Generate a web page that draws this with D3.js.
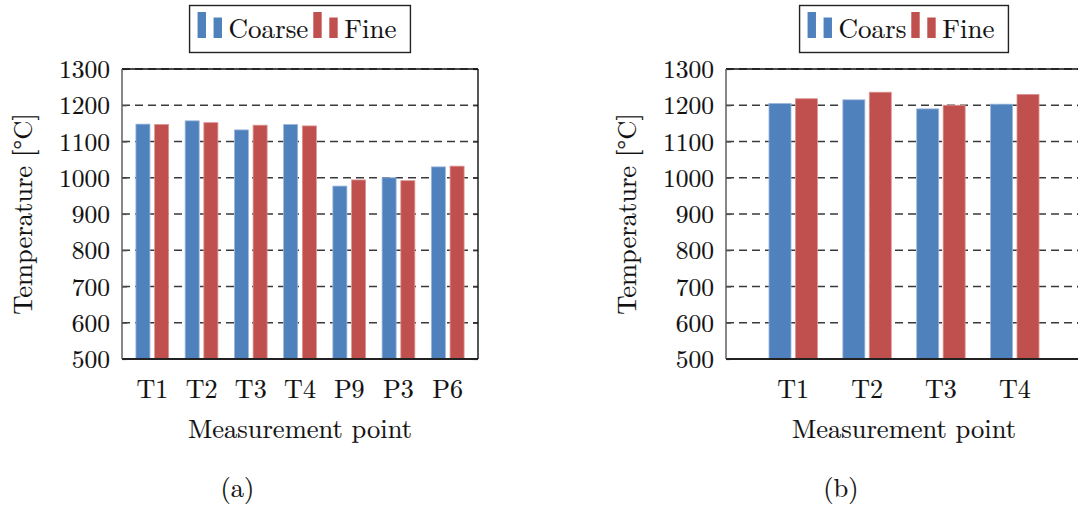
<!DOCTYPE html>
<html>
<head>
<meta charset="utf-8">
<script src="https://cdn.jsdelivr.net/npm/d3@7"></script>
<style>
  body { margin: 0; background: #fff; }
</style>
</head>
<body>
<div id="chart"></div>
<script>
// data
const catsA = ["T1", "T2", "T3", "T4", "P9", "P3", "P6"];
const coarseA = [1148, 1157, 1132, 1147, 977, 1000, 1030];
const fineA = [1147, 1152, 1145, 1143, 994, 992, 1032];

const catsB = ["T1", "T2", "T3", "T4"];
const coarseB = [1205, 1215, 1190, 1203];
const fineB = [1218, 1236, 1200, 1230];

const yTicks = [500, 600, 700, 800, 900, 1000, 1100, 1200, 1300];
const legendA = ["Coarse", "Fine"];
const legendB = ["Coars", "Fine"];

const colors = ["#4f81bd", "#c0504d"];
const edges = ["#9db8dc", "#dc9694"];

const W = 1078, H = 511;
const svg = d3.select("#chart").append("svg")
  .attr("width", W).attr("height", H)
  .style("font-family", '"Latin Modern Roman", "Liberation Serif", serif');

// slightly heavier text, closer to the downscaled TeX look
function ink(sel) {
  return sel.attr("fill", "#111").attr("stroke", "#111").attr("stroke-width", 0.15);
}

function panel(o) {
  const g = svg.append("g");
  const y = d3.scaleLinear().domain([500, 1300]).range([359, 69]);
  const x = d3.scalePoint().domain(o.cats).range([o.x0, o.x1]).padding(o.pad);
  const step = x.step();
  const bw = step * o.bwFrac, shift = step * o.shiftFrac;

  // dashed grid
  g.selectAll(".grid").data(yTicks).join("line")
    .attr("x1", o.x0).attr("x2", o.x1)
    .attr("y1", d => y(d)).attr("y2", d => y(d))
    .attr("stroke", "#3a3a3a").attr("stroke-width", 1.5)
    .attr("stroke-dasharray", "8,5");

  // bars
  [o.coarse, o.fine].forEach((vals, si) => {
    g.selectAll(".bar" + si).data(vals).join("rect")
      .attr("x", (d, i) => x(o.cats[i]) + (si ? shift : -shift) - bw / 2)
      .attr("width", bw)
      .attr("y", d => y(d))
      .attr("height", d => y(500) - y(d))
      .attr("fill", colors[si])
      .attr("stroke", edges[si]).attr("stroke-width", 0.8);
  });

  // y axis ticks inside, left and right
  const yl = g.append("g").attr("transform", `translate(${o.x0},0)`)
    .call(d3.axisRight(y).tickValues(yTicks).tickSize(5).tickFormat(""));
  yl.select(".domain").remove();
  yl.selectAll("line").attr("stroke", "#555").attr("stroke-width", 1.2);
  const yr = g.append("g").attr("transform", `translate(${o.x1},0)`)
    .call(d3.axisLeft(y).tickValues(yTicks).tickSize(5).tickFormat(""));
  yr.select(".domain").remove();
  yr.selectAll("line").attr("stroke", "#333").attr("stroke-width", 1.2);

  // frame
  g.append("line").attr("x1", o.x0).attr("x2", o.x1).attr("y1", 69).attr("y2", 69)
    .attr("stroke", "#111").attr("stroke-width", 1.4);
  g.append("line").attr("x1", o.x0).attr("x2", o.x1).attr("y1", 359).attr("y2", 359)
    .attr("stroke", "#222").attr("stroke-width", 1.8);
  g.append("line").attr("x1", o.x0).attr("x2", o.x0).attr("y1", 69).attr("y2", 359)
    .attr("stroke", "#555").attr("stroke-width", 1.4);
  g.append("line").attr("x1", o.x1).attr("x2", o.x1).attr("y1", 69).attr("y2", 359)
    .attr("stroke", "#111").attr("stroke-width", 1.4);

  // tick labels
  ink(g.selectAll(".ylab").data(yTicks).join("text"))
    .attr("x", o.x0 - 12).attr("y", d => y(d)).attr("dy", "0.36em")
    .attr("text-anchor", "end").attr("font-size", 25.5)
    .text(d => d);
  ink(g.selectAll(".xlab").data(o.cats).join("text"))
    .attr("x", d => x(d)).attr("y", 398)
    .attr("text-anchor", "middle").attr("font-size", 26)
    .text(d => d);

  // axis titles
  const cx = (o.x0 + o.x1) / 2;
  ink(g.append("text")).attr("x", cx).attr("y", 437.5).attr("text-anchor", "middle")
    .attr("font-size", 26.5).text("Measurement point");
  ink(g.append("text")).attr("transform", `translate(${o.x0 - 90},214) rotate(-90)`)
    .attr("text-anchor", "middle").attr("font-size", 26.5)
    .text("Temperature [°C]");
  ink(g.append("text")).attr("x", o.capX).attr("y", 497).attr("text-anchor", "middle")
    .attr("font-size", 26.5).text(o.caption);

  // legend
  const lg = g.append("g");
  let cur = 0;
  o.legend.forEach((name, si) => {
    lg.append("rect").attr("x", cur).attr("y", 12).attr("width", 8.4).attr("height", 26)
      .attr("fill", colors[si]);
    lg.append("rect").attr("x", cur + 16).attr("y", 17.5).attr("width", 8.4).attr("height", 20.5)
      .attr("fill", colors[si]);
    const t = ink(lg.append("text")).attr("x", cur + 31).attr("y", 37.5)
      .attr("font-size", 27).text(name);
    cur += 31 + t.node().getComputedTextLength() + 5;
  });
  const lw = cur - 5 + 14 + 8;
  const lx = cx - lw / 2;
  lg.attr("transform", `translate(${lx + 8},0)`);
  g.insert("rect", ":first-child")
    .attr("x", lx).attr("y", 5.5).attr("width", lw).attr("height", 47)
    .attr("fill", "#fff").attr("stroke", "#222").attr("stroke-width", 1.4);
}

panel({cats: catsA, coarse: coarseA, fine: fineA, legend: legendA,
  x0: 122, x1: 478, pad: 0.615, bwFrac: 0.285, shiftFrac: 0.19,
  capX: 237.5, caption: "(a)"});
panel({cats: catsB, coarse: coarseB, fine: fineB, legend: legendB,
  x0: 726, x1: 1082, pad: 0.91, bwFrac: 0.298, shiftFrac: 0.179,
  capX: 841, caption: "(b)"});
</script>
</body>
</html>
